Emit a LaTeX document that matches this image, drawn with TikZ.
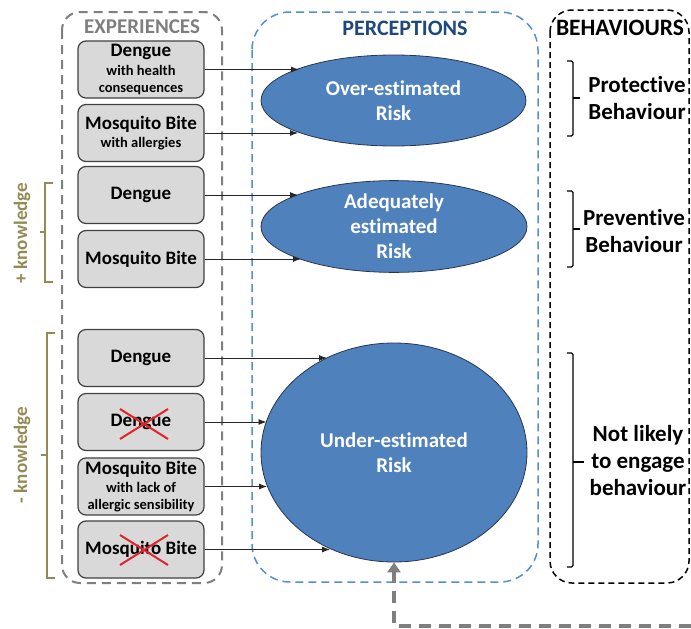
\documentclass[tikz,border=0pt]{standalone}
\usepackage{fontspec}
\setmainfont{Carlito}[Ligatures=NoCommon]
\usetikzlibrary{shapes.geometric,arrows.meta}
\definecolor{expgray}{RGB}{127,127,127}
\definecolor{boxfill}{RGB}{217,217,217}
\definecolor{boxline}{RGB}{64,64,64}
\definecolor{percblue}{RGB}{85,142,213}
\definecolor{titleblue}{RGB}{31,73,125}
\definecolor{riskfill}{RGB}{79,129,189}
\definecolor{riskline}{RGB}{40,55,80}
\definecolor{knowcol}{RGB}{148,138,84}
\definecolor{crossred}{RGB}{228,32,40}

\begin{document}
\begin{tikzpicture}[x=1pt,y=-1pt,
  expbox/.style={draw=boxline, fill=boxfill, line width=1.2pt, rounded corners=8pt,
    minimum width=126pt, minimum height=57pt, inner sep=0pt, align=center,
    font=\bfseries\fontsize{14.5}{16.7}\selectfont},
  big/.style={font=\bfseries\fontsize{19}{20}\selectfont},
  risk/.style={ellipse, draw=riskline, fill=riskfill, line width=0.8pt, inner sep=0pt,
    text=white, align=center, font=\bfseries\fontsize{21}{25}\selectfont},
  link/.style={draw=black!85, line width=0.9pt, -{Latex[length=8pt,width=6pt]}},
  heading/.style={font=\bfseries\fontsize{21}{21}\selectfont},
  behtext/.style={align=center, font=\bfseries\fontsize{23}{27}\selectfont},
  knowtext/.style={rotate=90, text=knowcol, font=\bfseries\fontsize{19}{19}\selectfont},
  brace/.style={draw=black, line width=1.3pt, rounded corners=1.5pt},
  kbrace/.style={draw=knowcol, line width=1.3pt},
  cross/.style={draw=crossred, line width=2pt},
  feedback/.style={draw=expgray, line width=4pt, dash pattern=on 12pt off 8pt,
    -{Triangle[length=10pt,width=13pt]}}
]
\useasboundingbox (0,0) rectangle (691,629);

% the three dashed panels
\draw[expgray, line width=2pt, dash pattern=on 9pt off 6pt, rounded corners=18pt]
  (62,12) rectangle (222,583);
\draw[percblue, line width=1.5pt, dash pattern=on 8pt off 5pt, rounded corners=38pt]
  (252,12) rectangle (538,582);
\draw[black, line width=1.5pt, dash pattern=on 6pt off 4pt, rounded corners=22pt]
  (550,10) rectangle (689,583);

% panel headings
\node[heading, text=expgray] (hexp) at (142,27) {EXPERIENCES};
\node[heading, text=titleblue, font=\bfseries\fontsize{22}{22}\selectfont] (hperc) at (405,28) {PERCEPTIONS};
\node[heading, font=\bfseries\fontsize{23.5}{23.5}\selectfont] (hbeh) at (620,28) {BEHAVIOURS};

% risk perceptions
\node[risk, minimum width=265pt, minimum height=91pt] (r1) at (393.5,100.5) {Over-estimated\\Risk};
\node[risk, minimum width=266pt, minimum height=91pt] (r2) at (394,226.5) {Adequately\\estimated\\Risk};
\node[risk, minimum width=266pt, minimum height=219pt] (r3) at (394,452.5) {Under-estimated\\Risk};

% experiences
\node[expbox] (b1) at (141,69.5) {{\fontsize{19}{20}\selectfont Dengue}\\[2pt]with health\\consequences};
\node[expbox] (b2) at (141,133) {{\fontsize{19}{20}\selectfont Mosquito Bite}\\[2pt]with allergies};
\node[expbox, big] (b3) at (141,195) {Dengue};
\node[expbox, big] (b4) at (141,259) {Mosquito Bite};
\node[expbox, big] (b5) at (141,358) {Dengue};
\node[expbox, big] (b6) at (141,422) {Dengue};
\node[expbox] (b7) at (141,486.5) {{\fontsize{19}{20}\selectfont Mosquito Bite}\\[2pt]with lack of\\allergic sensibility};
\node[expbox, big] (b8) at (141,549.5) {Mosquito Bite};

% crossed-out experiences
\draw[cross] (120,409) -- (168,439) (120,439) -- (168,409);
\draw[cross] (120,535) -- (168,565) (120,565) -- (168,535);

% arrow ends on the ellipse borders
\coordinate (e1) at (299,69.5);
\coordinate (e2) at (298,133);
\coordinate (e3) at (298,195);
\coordinate (e4) at (301,259);
\coordinate (e5) at (327,358);
\coordinate (e6) at (266.5,422);
\coordinate (e7) at (267,486.5);
\coordinate (e8) at (330,549.5);
\foreach \i in {1,...,8} \draw[link] (b\i.east) -- (e\i);

% knowledge brackets
\draw[kbrace] (53,183) -- (45,183) -- (45,282) -- (53,282) (45,232) -- (40,232);
\node[knowtext] (kplus) at (22,233) {+ knowledge};
\draw[kbrace] (55,333) -- (47,333) -- (47,578) -- (55,578) (47,455) -- (41,455);
\node[knowtext] (kminus) at (22,455) {- knowledge};

% behaviour braces
\draw[brace] (567,61) -- (573,61) -- (573,136) -- (567,136);
\draw[brace] (573,98) -- (580,98);
\node[behtext] (beh1) at (637,98) {Protective\\Behaviour};
\draw[brace] (567,191) -- (573,191) -- (573,267) -- (567,267);
\draw[brace] (573,229) -- (580,229);
\node[behtext] (beh2) at (634,231) {Preventive\\Behaviour};
\draw[brace] (567,353) -- (573,353) -- (573,567) -- (567,567);
\draw[brace] (573,462) -- (584,462);
\node[behtext] (beh3) at (638,461) {Not likely\\to engage\\behaviour};

% feedback arrow
\coordinate (fb) at (691,626);
\draw[feedback] (fb) -- (fb -| r3.south) -- (r3.south);
\end{tikzpicture}
\end{document}
